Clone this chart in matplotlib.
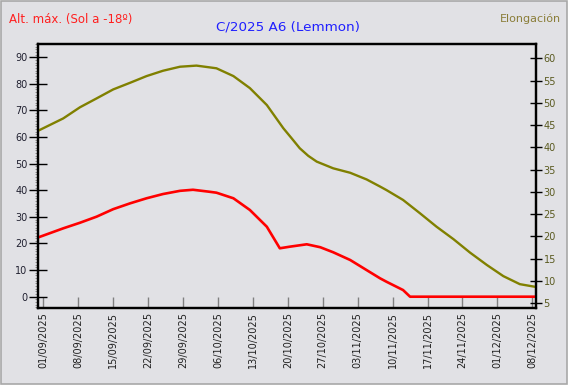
"""C/2025 A6 (Lemmon) — altitud máxima y elongación, sep–dic 2025."""
from datetime import datetime

import matplotlib
matplotlib.use("Agg")
import matplotlib.pyplot as plt
import matplotlib.dates as mdates
from matplotlib.patches import Rectangle
from matplotlib.ticker import MultipleLocator

plt.rcParams["font.family"] = ["DejaVu Sans"]

# ─── datos ─────────────────────────────────────────────────────────
START = datetime(2025, 9, 1)

# días desde 01/09/2025 y elongación (eje derecho, grados)
ELONG_DAYS = [-1.0, 4.0, 7.35, 10.7, 14.0, 17.4, 20.7, 24.0, 27.4, 30.7,
              34.7, 38.1, 41.4, 44.8, 48.1, 49.8, 51.4, 53.1, 54.8, 58.1, 61.5, 64.8,
              67.5, 68.8, 72.1, 75.5, 78.8, 82.2, 85.5, 88.9, 92.2, 95.5, 98.6]
ELONG = [43.75, 46.5, 49.0, 51.0, 53.0, 54.5, 56.0, 57.2, 58.1, 58.35,
         57.75, 56.0, 53.3, 49.5, 44.3, 42.0, 39.8, 38.1, 36.8, 35.3, 34.3, 32.8,
         31.2, 30.4, 28.2, 25.2, 22.2, 19.4, 16.4, 13.6, 11.1, 9.3, 8.7]

# días desde 01/09/2025 y altura máxima con el Sol a -18º (eje izquierdo)
ALT_DAYS = [-1.0, 4.0, 7.35, 10.7, 14.0, 17.4, 20.7, 24.0, 27.4, 30.0,
            33.1, 34.7, 38.1, 41.4, 44.8, 47.4, 49.4, 52.8, 55.5, 58.1,
            61.5, 64.8, 67.5, 68.8, 72.1, 73.5, 98.6]
ALT = [22.3, 25.7, 27.8, 30.1, 32.9, 35.1, 37.0, 38.6, 39.8, 40.2,
       39.5, 39.1, 37.0, 32.6, 26.3, 18.2, 18.8, 19.7, 18.6, 16.7,
       13.8, 10.0, 6.9, 5.6, 2.5, 0.0, 0.0]

BG = "#E1E1E5"
W, H = 574, 387


def to_num(days):
    return [mdates.date2num(START) + d for d in days]


fig = plt.figure(figsize=(W / 100, H / 100), dpi=100, facecolor="white")
fig.patches.append(Rectangle((1 / W, 3 / H), 566 / W, 383 / H, transform=fig.transFigure,
                             facecolor=BG, edgecolor="#A8A8A8", linewidth=1.2, zorder=-10))

ax = fig.add_axes([38 / W, 1 - 308 / H, 498 / W, 264 / H])
ax.set_facecolor(BG)
ax2 = ax.twinx()

ax.plot(to_num(ALT_DAYS), ALT, color="#FF0000", linewidth=1.9, zorder=3)
ax2.plot(to_num(ELONG_DAYS), ELONG, color="#808000", linewidth=1.7)

x0 = mdates.date2num(START)
ax.set_xlim(x0 - 1.06, x0 + 98.74)
ax.set_ylim(-4.25, 95)
ax2.set_ylim(3.95, 63.2)

# eje x: fechas semanales
ax.set_xticks([x0 + 7 * i for i in range(15)])
ax.xaxis.set_major_formatter(mdates.DateFormatter("%d/%m/%Y"))
ax.tick_params(axis="x", direction="in", length=8, width=1, color="#808080",
               labelsize=7, labelrotation=90, pad=3, labelcolor="#202020")

# eje izquierdo
ax.yaxis.set_major_locator(MultipleLocator(10))
ax.yaxis.set_minor_locator(MultipleLocator(1))
ax.tick_params(axis="y", which="major", direction="inout", length=13, width=1,
               labelsize=7, labelcolor="#202030", pad=1)
ax.tick_params(axis="y", which="minor", direction="out", length=2, width=0.6, color="#808080")

# eje derecho
ax2.yaxis.set_major_locator(MultipleLocator(5))
ax2.tick_params(axis="y", direction="inout", length=9, width=1,
                labelsize=7, labelcolor="#5A5A20", pad=1)

for a in (ax, ax2):
    for s in a.spines.values():
        s.set_linewidth(1.6)
        s.set_color("black")

fig.text(9 / W, 1 - 19 / H, "Alt. máx. (Sol a -18º)", color="#FF2020",
         fontsize=8.5, ha="left", va="center")
fig.text(561 / W, 1 - 19 / H, "Elongación", color="#8A7D38",
         fontsize=8, ha="right", va="center")
fig.text(288 / W, 1 - 27 / H, "C/2025 A6 (Lemmon)", color="#2020FF",
         fontsize=9.7, ha="center", va="center")

fig.savefig("out.png", dpi=100, facecolor=fig.get_facecolor())
